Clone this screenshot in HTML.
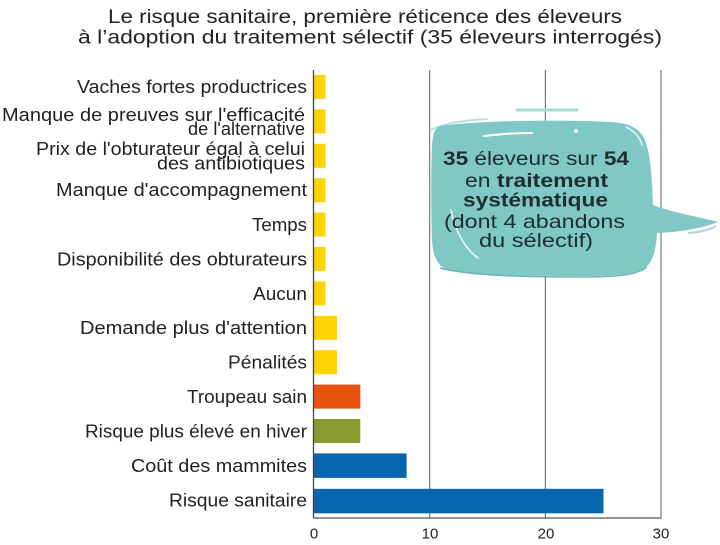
<!DOCTYPE html>
<html>
<head>
<meta charset="utf-8">
<style>
  html, body { margin: 0; padding: 0; background: #ffffff; }
  svg { display: block; }
  text { font-family: "Liberation Sans", "DejaVu Sans", sans-serif; fill: #222; }
</style>
</head>
<body>
<svg width="720" height="545" viewBox="0 0 720 545" xmlns="http://www.w3.org/2000/svg">
  <rect x="0" y="0" width="720" height="545" fill="#ffffff"/>

  <!-- Title -->
  <text x="108" y="23" font-size="19" textLength="514" lengthAdjust="spacingAndGlyphs">Le risque sanitaire, première réticence des éleveurs</text>
  <text x="78" y="43.5" font-size="19" textLength="584" lengthAdjust="spacingAndGlyphs">à l’adoption du traitement sélectif (35 éleveurs interrogés)</text>

  <!-- Grid lines -->
  <g stroke="#7a7a7a" stroke-width="1.2">
    <line x1="429.7" y1="70" x2="429.7" y2="518"/>
    <line x1="545.4" y1="70" x2="545.4" y2="518"/>
    <line x1="661" y1="70" x2="661" y2="518"/>
  </g>

  <!-- Bars -->
  <g>
    <rect x="314" y="75" width="11.6" height="24" fill="#FFD400"/>
    <rect x="314" y="109.4" width="11.6" height="24" fill="#FFD400"/>
    <rect x="314" y="143.8" width="11.6" height="24" fill="#FFD400"/>
    <rect x="314" y="178.2" width="11.6" height="24" fill="#FFD400"/>
    <rect x="314" y="212.6" width="11.6" height="24" fill="#FFD400"/>
    <rect x="314" y="247" width="11.6" height="24" fill="#FFD400"/>
    <rect x="314" y="281.4" width="11.6" height="24" fill="#FFD400"/>
    <rect x="314" y="315.8" width="23.1" height="24" fill="#FFD400"/>
    <rect x="314" y="350.2" width="23.1" height="24" fill="#FFD400"/>
    <rect x="314" y="384.6" width="46.3" height="24" fill="#E8520F"/>
    <rect x="314" y="419" width="46.3" height="24" fill="#8A9A2E"/>
    <rect x="314" y="453.4" width="92.6" height="24.5" fill="#0666B0"/>
    <rect x="314" y="488.8" width="289.5" height="24.5" fill="#0666B0"/>
  </g>

  <!-- Axes -->
  <line x1="313.5" y1="70" x2="313.5" y2="518.5" stroke="#444" stroke-width="1.3"/>
  <line x1="313" y1="518" x2="661.5" y2="518" stroke="#555" stroke-width="1.3"/>

  <!-- Tick labels -->
  <g font-size="15" text-anchor="middle">
    <text x="314" y="538.5">0</text>
    <text x="430" y="538.5">10</text>
    <text x="546" y="538.5">20</text>
    <text x="661" y="538.5">30</text>
  </g>

  <!-- Category labels -->
  <g font-size="18" text-anchor="end">
    <text x="307" y="93" textLength="230" lengthAdjust="spacingAndGlyphs">Vaches fortes productrices</text>
    <text x="305" y="121" textLength="303" lengthAdjust="spacingAndGlyphs">Manque de preuves sur l'efficacité</text>
    <text x="305" y="135" textLength="117" lengthAdjust="spacingAndGlyphs">de l'alternative</text>
    <text x="305" y="155" textLength="269" lengthAdjust="spacingAndGlyphs">Prix de l'obturateur égal à celui</text>
    <text x="305" y="169.5" textLength="148" lengthAdjust="spacingAndGlyphs">des antibiotiques</text>
    <text x="307" y="196" textLength="251" lengthAdjust="spacingAndGlyphs">Manque d'accompagnement</text>
    <text x="307" y="231" textLength="55" lengthAdjust="spacingAndGlyphs">Temps</text>
    <text x="307" y="265.5" textLength="250" lengthAdjust="spacingAndGlyphs">Disponibilité des obturateurs</text>
    <text x="307" y="300" textLength="54" lengthAdjust="spacingAndGlyphs">Aucun</text>
    <text x="307" y="334" textLength="227" lengthAdjust="spacingAndGlyphs">Demande plus d'attention</text>
    <text x="307" y="368.5" textLength="79" lengthAdjust="spacingAndGlyphs">Pénalités</text>
    <text x="307" y="403" textLength="120" lengthAdjust="spacingAndGlyphs">Troupeau sain</text>
    <text x="307" y="437.5" textLength="222" lengthAdjust="spacingAndGlyphs">Risque plus élevé en hiver</text>
    <text x="307" y="472" textLength="176" lengthAdjust="spacingAndGlyphs">Coût des mammites</text>
    <text x="307" y="506.5" textLength="138" lengthAdjust="spacingAndGlyphs">Risque sanitaire</text>
  </g>

  <!-- Speech bubble -->
  <g>
    <line x1="517" y1="110" x2="577" y2="110" stroke="#a9dad8" stroke-width="3" stroke-linecap="round"/>
    <path d="M 431,130 C 445,123 465,120 488,119" stroke="#b9e1df" stroke-width="2" fill="none"/>
    <path d="M 440,126
             C 470,121 560,119 610,122
             C 628,123 638,127 644,138
             C 650,150 652,175 653,205
             C 670,212 695,216 718,222
             C 700,229 680,232 657,233
             C 656,250 653,262 645,268
             C 635,275 610,276 580,276
             C 530,276 480,276 452,271
             C 438,268 433,258 432,240
             C 431,210 431,170 432,145
             C 433,133 435,128 440,126 Z"
          fill="#7FC8C5"/>
    <path d="M 440,268 C 470,276 530,277 580,277 C 615,277 638,275 647,267" stroke="#6fb7b4" stroke-width="1.5" fill="none"/>
    <!-- highlights -->
    <path d="M 484,136 C 500,134 515,133 532,133" stroke="#ffffff" stroke-width="2" fill="none" stroke-linecap="round"/>
    <circle cx="576" cy="131" r="2" fill="#ffffff"/>
    <path d="M 451,210 C 455,230 464,248 478,258" stroke="#ffffff" stroke-width="1.5" fill="none" stroke-linecap="round" opacity="0.85"/>
    <path d="M 626,127 C 634,131 640,137 642,145" stroke="#ffffff" stroke-width="1.5" fill="none" stroke-linecap="round" opacity="0.8"/>
    <path d="M 688,233 C 700,232 710,230 716,226" stroke="#a9dad8" stroke-width="2" fill="none"/>

    <g font-size="19.5" text-anchor="middle">
      <text x="536" y="165" textLength="186" lengthAdjust="spacingAndGlyphs" style="fill:#1e2d30"><tspan font-weight="bold">35</tspan> éleveurs sur <tspan font-weight="bold">54</tspan></text>
      <text x="536.5" y="187" textLength="143" lengthAdjust="spacingAndGlyphs" style="fill:#1e2d30">en <tspan font-weight="bold">traitement</tspan></text>
      <text x="535.5" y="206.5" textLength="145" lengthAdjust="spacingAndGlyphs" font-weight="bold" style="fill:#1e2d30">systématique</text>
      <text x="534.5" y="228" textLength="181" lengthAdjust="spacingAndGlyphs" style="fill:#1e2d30">(dont 4 abandons</text>
      <text x="536" y="247" textLength="114" lengthAdjust="spacingAndGlyphs" style="fill:#1e2d30">du sélectif)</text>
    </g>
  </g>
</svg>
</body>
</html>
